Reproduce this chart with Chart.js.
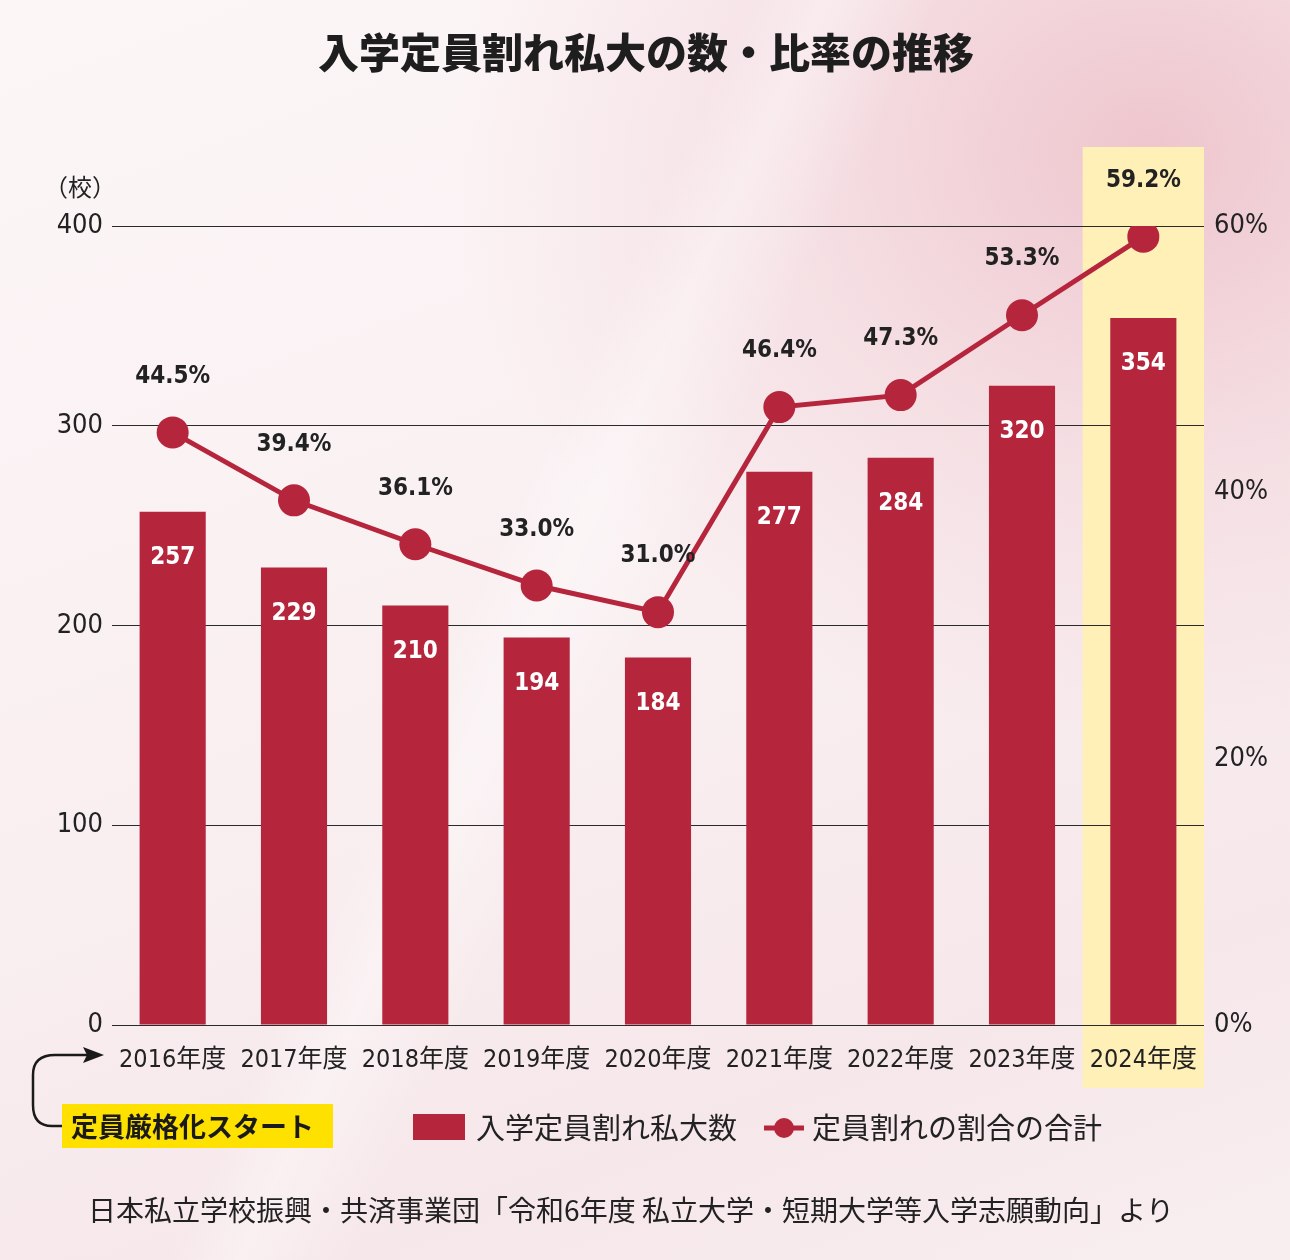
<!DOCTYPE html>
<html>
<head>
<meta charset="utf-8">
<script src="https://cdn.jsdelivr.net/npm/chart.js@4.4.1/dist/chart.umd.min.js"></script>
<style>
html,body{margin:0;padding:0;}
body{width:1290px;height:1260px;overflow:hidden;
background:
 linear-gradient(115deg, rgba(255,255,255,0) 0%, rgba(255,255,255,0) 40%, rgba(255,255,255,0.35) 44%, rgba(255,255,255,0) 50%, rgba(255,255,255,0) 100%),
 radial-gradient(ellipse 700px 600px at 1150px 150px, rgba(236,190,199,0.85) 0%, rgba(240,205,212,0.5) 50%, rgba(248,232,235,0) 100%),
 linear-gradient(160deg, #fcf6f7 0%, #f9eff1 50%, #f6e7ea 80%, #f8eef0 100%);}
canvas{position:absolute;left:0;top:0;}
</style>
</head>
<body>
<canvas id="c" width="1290" height="1260"></canvas>
<script>
const categories = ['2016年度','2017年度','2018年度','2019年度','2020年度','2021年度','2022年度','2023年度','2024年度'];
const schoolCounts = [257, 229, 210, 194, 184, 277, 284, 320, 354];
const shortfallRates = [44.5, 39.4, 36.1, 33.0, 31.0, 46.4, 47.3, 53.3, 59.2];
const leftTicks = [0, 100, 200, 300, 400];
const rightTicks = [0, 20, 40, 60];
const highlightIndex = 8;

const RED = '#b5253c';
const NUM = '"Liberation Sans Narrow", "DejaVu Sans Condensed", "Liberation Sans", sans-serif';
const JP = '"Noto Sans CJK JP", "Noto Sans", sans-serif';

const bgPlugin = {
  id: 'highlight',
  beforeDraw(chart) {
    const x = chart.scales.x;
    const ctx = chart.ctx;
    const cx = x.getPixelForValue(highlightIndex);
    const half = (x.getPixelForValue(1) - x.getPixelForValue(0)) / 2;
    ctx.save();
    ctx.fillStyle = '#fff0b8';
    ctx.fillRect(cx - half, 147, half * 2, 1088 - 147);
    ctx.restore();
  }
};

const decoPlugin = {
  id: 'deco',
  afterDraw(chart) {
    const ctx = chart.ctx;
    ctx.save();
    // title
    ctx.fillStyle = '#1e1e1e';
    ctx.font = '900 41px ' + JP;
    ctx.textAlign = 'center';
    ctx.textBaseline = 'middle';
    ctx.fillText('入学定員割れ私大の数・比率の推移', 646, 52);
    // unit
    ctx.font = '24px ' + JP;
    ctx.textAlign = 'left';
    ctx.fillStyle = '#222';
    ctx.fillText('（校）', 44, 187);

    // data labels
    const barMeta = chart.getDatasetMeta(0);
    const lineMeta = chart.getDatasetMeta(1);
    ctx.textAlign = 'center';
    ctx.font = 'bold 24px ' + NUM;
    barMeta.data.forEach((el, i) => {
      ctx.fillStyle = '#ffffff';
      ctx.fillText(String(schoolCounts[i]), el.x, el.y + 46);
    });
    lineMeta.data.forEach((el, i) => {
      ctx.fillStyle = '#222';
      ctx.fillText(shortfallRates[i].toFixed(1) + '%', el.x, el.y - 56);
    });

    // start marker box
    ctx.fillStyle = '#ffe100';
    ctx.fillRect(62, 1104, 271, 44);
    ctx.fillStyle = '#1a1a1a';
    ctx.font = 'bold 27px ' + JP;
    ctx.textAlign = 'left';
    ctx.fillText('定員厳格化スタート', 71, 1127);
    // arrow
    ctx.strokeStyle = '#1a1a1a';
    ctx.lineWidth = 2.5;
    ctx.beginPath();
    ctx.moveTo(62, 1126);
    ctx.lineTo(52, 1126);
    ctx.quadraticCurveTo(33, 1126, 33, 1105);
    ctx.lineTo(33, 1075);
    ctx.quadraticCurveTo(33, 1055, 55, 1055);
    ctx.lineTo(88, 1055);
    ctx.stroke();
    ctx.beginPath();
    ctx.moveTo(104, 1055);
    ctx.lineTo(83, 1047);
    ctx.lineTo(87, 1055);
    ctx.lineTo(83, 1063);
    ctx.closePath();
    ctx.fillStyle = '#1a1a1a';
    ctx.fill();

    // legend
    ctx.fillStyle = RED;
    ctx.fillRect(413, 1114, 52, 26);
    ctx.fillStyle = '#222';
    ctx.font = '29px ' + JP;
    ctx.fillText(chart.data.datasets[0].label, 476, 1128);
    ctx.strokeStyle = RED;
    ctx.lineWidth = 5;
    ctx.beginPath();
    ctx.moveTo(764, 1128);
    ctx.lineTo(804, 1128);
    ctx.stroke();
    ctx.beginPath();
    ctx.arc(784, 1128, 10, 0, Math.PI * 2);
    ctx.fillStyle = RED;
    ctx.fill();
    ctx.fillStyle = '#222';
    ctx.fillText(chart.data.datasets[1].label, 812, 1128);

    // source
    ctx.font = '28px ' + JP;
    ctx.textAlign = 'center';
    ctx.fillText('日本私立学校振興・共済事業団「令和6年度 私立大学・短期大学等入学志願動向」より', 631, 1210);
    ctx.restore();
  }
};

new Chart(document.getElementById('c'), {
  data: {
    labels: categories,
    datasets: [
      {
        type: 'bar',
        label: '入学定員割れ私大数',
        data: schoolCounts,
        backgroundColor: RED,
        yAxisID: 'y',
        barPercentage: 0.545,
        categoryPercentage: 1,
        order: 2
      },
      {
        type: 'line',
        label: '定員割れの割合の合計',
        data: shortfallRates,
        borderColor: RED,
        backgroundColor: RED,
        borderWidth: 5,
        pointRadius: 16,
        pointHoverRadius: 16,
        pointBorderWidth: 0,
        pointBackgroundColor: RED,
        yAxisID: 'y1',
        tension: 0,
        order: 1
      }
    ]
  },
  options: {
    responsive: false,
    animation: false,
    devicePixelRatio: 1,
    layout: { padding: { top: 226, left: 0, right: 0, bottom: 0 } },
    plugins: { legend: { display: false }, title: { display: false }, tooltip: { enabled: false } },
    scales: {
      x: {
        grid: { display: false },
        border: { display: false },
        ticks: { color: '#222', font: { family: NUM + ', ' + JP, size: 25 }, padding: 12, maxRotation: 0 },
        afterFit(s) { s.height = 235; }
      },
      y: {
        position: 'left',
        min: 0, max: 400,
        afterBuildTicks(s) { s.ticks = leftTicks.map(v => ({ value: v })); },
        grid: { color: '#2a2a2a', lineWidth: 1, drawTicks: false },
        border: { display: false },
        ticks: { color: '#222', font: { family: NUM, size: 27 }, padding: 9 },
        afterFit(s) { s.width = 112; }
      },
      y1: {
        position: 'right',
        min: 0, max: 60,
        afterBuildTicks(s) { s.ticks = rightTicks.map(v => ({ value: v })); },
        grid: { display: false, drawTicks: false },
        border: { display: false },
        ticks: { color: '#222', font: { family: NUM, size: 27 }, padding: 10, callback: v => v + '%' },
        afterFit(s) { s.width = 86; }
      }
    }
  },
  plugins: [bgPlugin, decoPlugin]
});
</script>
</body>
</html>
